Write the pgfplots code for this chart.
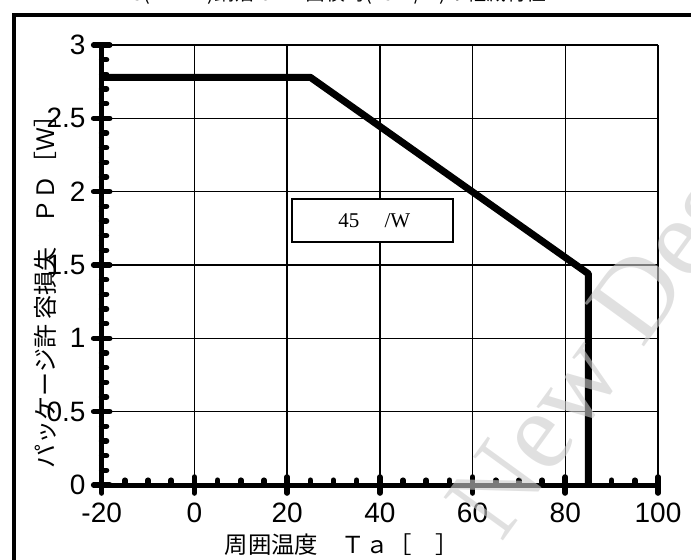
\documentclass[border=0pt]{standalone}
\usepackage{fontspec}
\setmainfont{Liberation Sans}
\newfontfamily\cjk{Noto Sans CJK JP}
\newfontfamily\serif{Liberation Serif}
\usepackage{pgfplots}
\pgfplotsset{compat=1.18}
\begin{document}
\begin{tikzpicture}
\useasboundingbox (-50.85pt,-37pt) rectangle (294.65pt,242.5pt);
\draw[line width=2pt] (-43.85pt,-90pt) rectangle (330pt,235.25pt);
\node[font=\cjk\fontsize{10}{12}\selectfont] at (119pt,245.3pt) {3(mm　)銅箔 GND 面積時(45　/W)の軽減特性};
\begin{axis}[
  at={(0pt,0pt)}, anchor=south west, scale only axis,
  width=278.15pt, height=220pt,
  xmin=-20, xmax=100, ymin=0, ymax=3,
  clip=false,
  axis x line*=bottom, axis y line*=left,
  axis line style={line width=2.5pt, -},
  xtick={-20,0,20,40,60,80,100},
  ytick={0,0.5,1,1.5,2,2.5,3},
  xticklabels={-20,0,20,40,60,80,100},
  yticklabels={0,0.5,1,1.5,2,2.5,3},
  minor x tick num=3, minor y tick num=4,
  grid=major,
  major grid style={line width=0.75pt, black},
  tick align=inside,
  major tick length=8pt,
  minor tick length=2.4pt,
  major tick style={line width=2.8pt, line cap=round, black},
  minor tick style={line width=2.8pt, line cap=round, black},
  every major x tick/.append style={yshift=-4pt},
  every major y tick/.append style={xshift=-4pt},
  /pgf/number format/assume math mode=true,
  tick label style={font=\fontsize{14}{16}\selectfont},
  xticklabel style={yshift=-5.3pt},
  yticklabel style={xshift=-4.6pt},
]
\addplot[line width=3.5pt, black, line join=bevel] coordinates {(-20,2.78) (25,2.78) (85,1.44) (85,0)};
\draw[line width=0.85pt, fill=white] (axis cs:21.05,1.657) rectangle (axis cs:55.78,1.95);
\node[font=\serif\fontsize{10.5}{12}\selectfont] at (axis cs:38.8,1.803) {45\hspace{1.2em}/W};
\end{axis}
\node[font=\cjk\fontsize{12}{14}\selectfont, rotate=90] at (-28.35pt,99.5pt) {パッケージ許 容損失　ＰＤ［Ｗ］};
\node[font=\cjk\fontsize{11.7}{14}\selectfont, anchor=west] at (58pt,-30pt) {周囲温度　Ｔａ［　］};
\node[font=\serif\fontsize{56}{64}\selectfont, text=gray!40, opacity=0.6, rotate=54, anchor=base west] at (198pt,-32pt) {New Design};
\end{tikzpicture}
\end{document}
